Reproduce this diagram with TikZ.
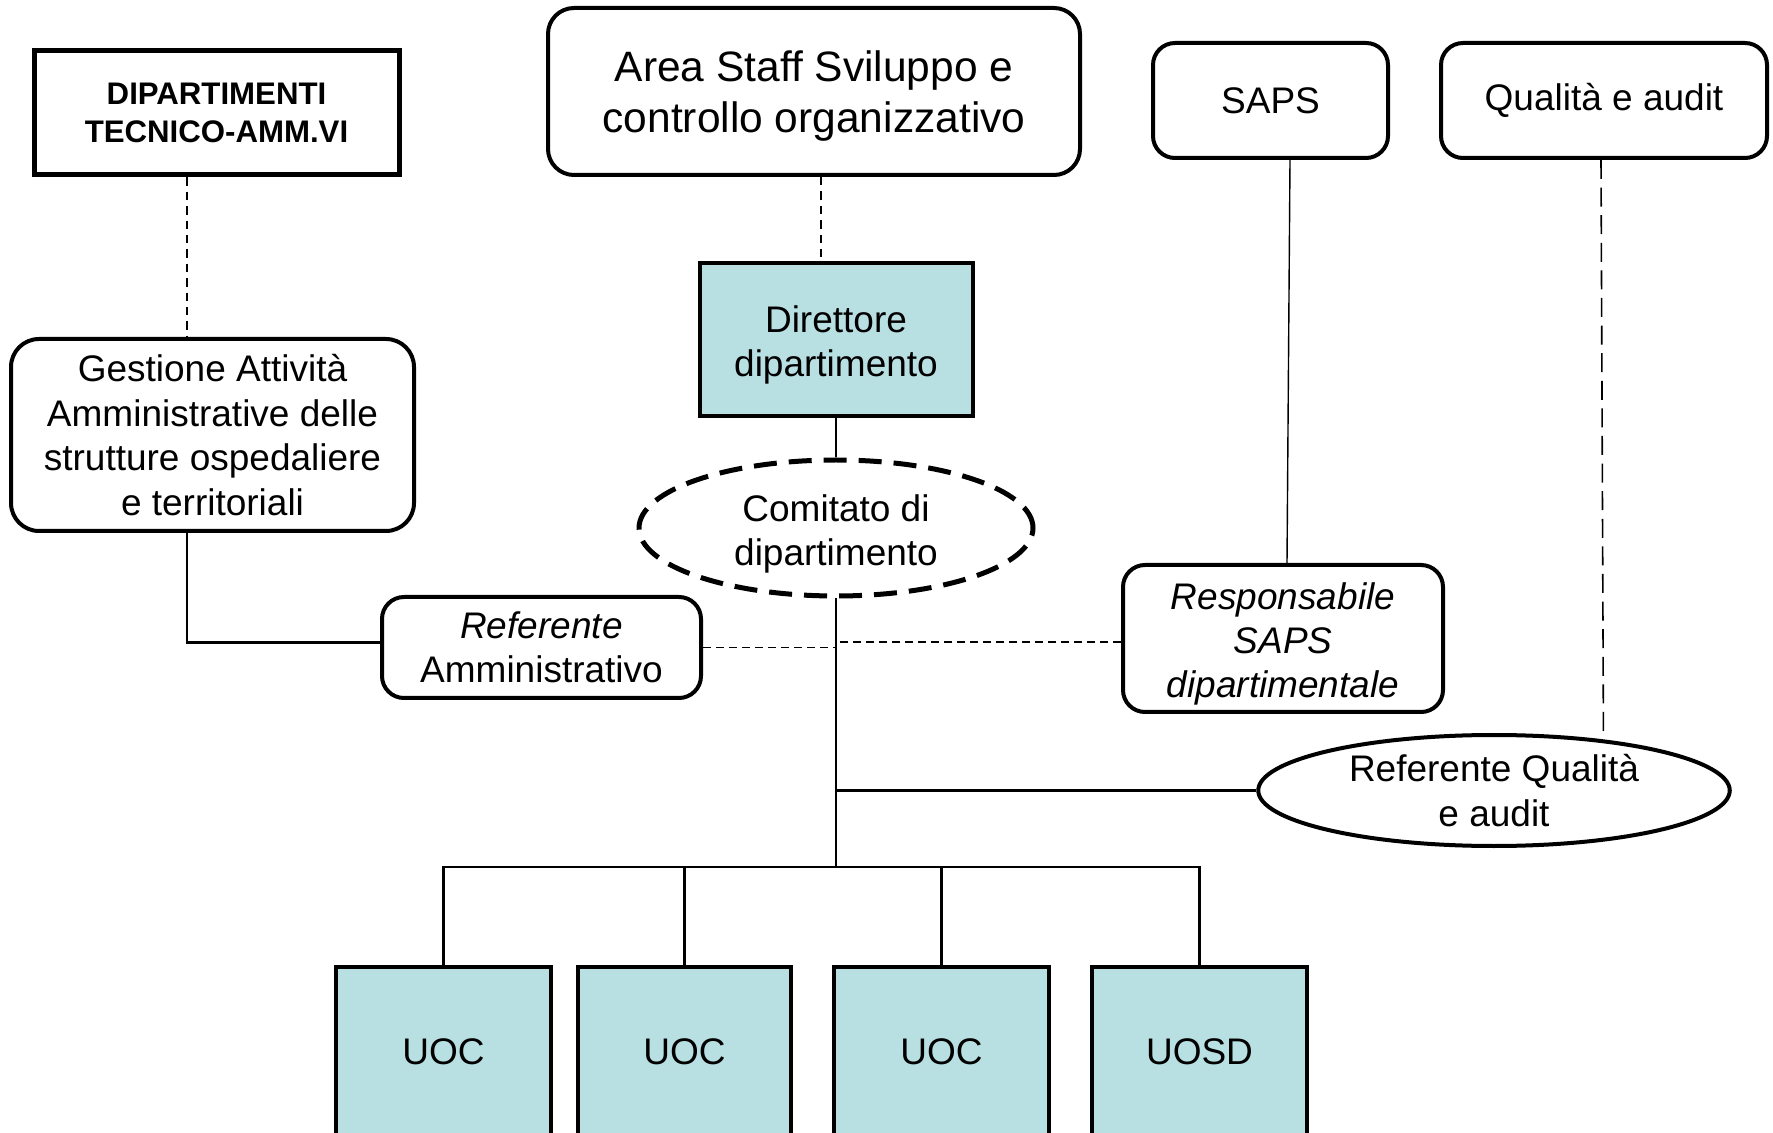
\documentclass[tikz,border=0pt]{standalone}
\usepackage{fontspec}
\setmainfont{Liberation Sans}
\usetikzlibrary{shapes.geometric}

\definecolor{unitfill}{RGB}{184,223,226}
\newcommand{\dropln}[1]{\rule{0pt}{#1}}

\begin{document}
\begin{tikzpicture}[x=0.5pt,y=-0.5pt,
    txt/.style={font=\fontsize{18.5}{22.2}\selectfont,align=center,inner sep=0pt},
    boxsq/.style={txt,draw,line width=2pt},
    boxrd/.style={txt,draw,line width=2pt,rounded corners=11pt},
    unit/.style={boxsq,fill=unitfill},
    link/.style={line width=1.1pt},
    dashlink/.style={line width=0.8pt,dash pattern=on 4.2pt off 3pt}]
    \useasboundingbox (0,0) rectangle (1773,1133);
    \clip (0,0) rectangle (1773,1133);
    % top row
    \node[boxsq,line width=2.5pt,minimum width=182.5pt,minimum height=62pt,font=\fontsize{15.6}{19.2}\selectfont\bfseries] (dip) at (216.5,113) {DIPARTIMENTI\\TECNICO-AMM.VI};
    \node[boxrd,minimum width=266pt,minimum height=83.5pt,font=\fontsize{21.25}{25.5}\selectfont,rounded corners=13pt] (area) at (814,91.5) {\dropln{19.6pt}Area Staff Sviluppo e\\controllo organizzativo};
    \node[boxrd,minimum width=117.5pt,minimum height=57.5pt] (saps) at (1270.5,100.5) {SAPS};
    \node[boxrd,minimum width=163pt,minimum height=57.5pt] (qual) at (1604,100.5) {Qualità e audit};
    % middle
    \node[unit,minimum width=136.5pt,minimum height=76.5pt] (dir) at (836,339.5) {\dropln{18.8pt}Direttore\\dipartimento};
    \node[boxrd,minimum width=201.5pt,minimum height=96pt,rounded corners=14pt] (gest) at (212.5,435) {Gestione Attività\\Amministrative delle\\strutture ospedaliere\\e territoriali};
    \node[txt,ellipse,draw,line width=2.5pt,dash pattern=on 11.5pt off 6pt,minimum width=197pt,minimum height=68pt] (com) at (836,528) {\dropln{19.6pt}Comitato di\\dipartimento};
    \node[boxrd,minimum width=159.5pt,minimum height=50.5pt] (refamm) at (541.5,647.5) {\itshape Referente\\Amministrativo};
    \node[boxrd,minimum width=160pt,minimum height=73.5pt,font=\fontsize{18.5}{22.2}\selectfont\itshape] (resp) at (1283,638.5) {\dropln{18.8pt}Responsabile\\SAPS\\dipartimentale};
    \node[txt,ellipse,draw,line width=2pt,minimum width=235.75pt,minimum height=55.5pt] (qualref) at (1494,790.5) {Referente Qualità\\e audit};
    % units
    \node[unit,minimum width=107.5pt,minimum height=85pt] (uoc1) at (443.5,1052) {UOC};
    \node[unit,minimum width=106.5pt,minimum height=85pt] (uoc2) at (684.5,1052) {UOC};
    \node[unit,minimum width=107.5pt,minimum height=85pt] (uoc3) at (941.5,1052) {UOC};
    \node[unit,minimum width=107.5pt,minimum height=85pt] (uosd) at (1199.5,1052) {UOSD};
    \coordinate (bus) at (836,867);
    % connectors
    \draw[dashlink] ([xshift=-14.75pt]dip.south) -- ([xshift=-14.75pt]dip.south |- gest.north);
    \draw[dashlink] ([xshift=3.5pt]area.south) -- ([xshift=3.5pt]area.south |- dir.north);
    \draw[link] (dir.south) -- (com.north);
    \draw[link] (com.south) -- (bus);
    \draw[link] ([xshift=-12.75pt]gest.south) |- ([yshift=2.5pt]refamm.west);
    \draw[dashlink,dash pattern=on 4pt off 2.5pt] (refamm.east) -- (refamm.east -| com.south);
    \draw[dashlink,dash pattern=on 4pt off 2.5pt] ([yshift=-1.75pt]resp.west) -- ([yshift=-1.75pt]resp.west -| com.south);
    \draw[line width=0.7pt] ([xshift=9.75pt]saps.south) -- ([xshift=2pt]resp.north);
    \draw[dashlink,dash pattern=on 9.5pt off 4.3pt] ([xshift=-1.5pt]qual.south) -- (qualref.25);
    \draw[link] (qualref.west) -- (qualref.west -| com.south);
    \draw[link] (uoc1.north) |- (bus) -| (uosd.north);
    \draw[link] (uoc2.north) -- (uoc2.north |- bus);
    \draw[link] (uoc3.north) -- (uoc3.north |- bus);
\end{tikzpicture}
\end{document}
